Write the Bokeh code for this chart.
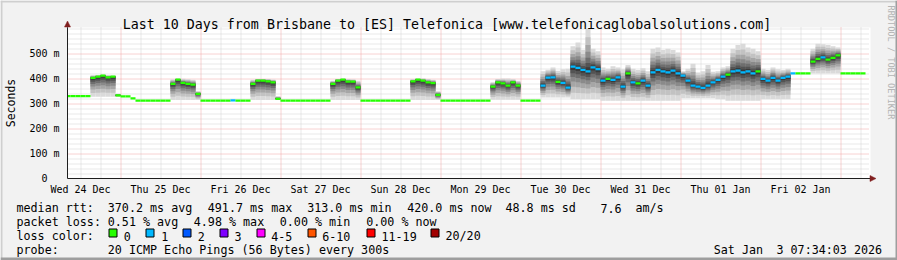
import math
from bokeh.plotting import figure
from bokeh.models import (Range1d, FixedTicker, Arrow, NormalHead, ColumnDataSource)
from bokeh.core.properties import value
from bokeh.embed import file_html
from bokeh.resources import INLINE

# ---------------- data ----------------
title_text = "Last 10 Days from Brisbane to [ES] Telefonica [www.telefonicaglobalsolutions.com]"
day_labels = ["Wed 24 Dec", "Thu 25 Dec", "Fri 26 Dec", "Sat 27 Dec", "Sun 28 Dec",
              "Mon 29 Dec", "Tue 30 Dec", "Wed 31 Dec", "Thu 01 Jan", "Fri 02 Jan"]
y_major = [0, 100, 200, 300, 400, 500]
y_labels = ["0\u00a0\u00a0", "100 m", "200 m", "300 m", "400 m", "500 m"]

# samples of 90 minutes; first sample starts 36 min before graph start
step_min = 90
first_min = -36

median_ms = [
    330, 330, 330, 330, 330, 403, 408, 412, 405, 408,
    333, 329, 329, 321, 312, 312, 312, 312, 312, 312,
    312, 379, 396, 383, 379, 376, 339, 312, 312, 312,
    312, 312, 312, 313, 312, 312, 312, 379, 392, 392,
    389, 385, 319, 312, 312, 312, 312, 312, 312, 312,
    312, 312, 312, 379, 392, 396, 388, 388, 365, 312,
    312, 312, 312, 312, 312, 312, 312, 312, 312, 389,
    396, 392, 385, 382, 335, 312, 312, 312, 312, 312,
    312, 312, 312, 312, 312, 368, 385, 381, 372, 385,
    372, 312, 312, 312, 312, 372, 404, 405, 387, 383,
    364, 448, 443, 435, 429, 445, 438, 392, 399, 395,
    405, 368, 421, 385, 381, 392, 372, 425, 435, 429,
    425, 432, 421, 412, 392, 372, 368, 363, 372, 385,
    395, 408, 416, 429, 432, 425, 429, 421, 429, 399,
    392, 403, 392, 403, 408, 421, 421, 421, 421, 468,
    479, 485, 476, 483, 493, 421, 421, 421, 421, 421,
]
loss = [
    0, 0, 0, 0, 0, 0, 0, 0, 0, 0,
    0, 0, 0, 0, 0, 0, 0, 0, 0, 0,
    0, 0, 0, 0, 0, 0, 0, 0, 0, 0,
    0, 0, 0, 1, 0, 0, 0, 0, 0, 0,
    0, 0, 0, 0, 0, 0, 0, 0, 0, 0,
    0, 0, 0, 0, 0, 0, 0, 0, 0, 0,
    0, 0, 0, 0, 0, 0, 0, 0, 0, 0,
    0, 0, 0, 0, 0, 0, 0, 0, 0, 0,
    0, 0, 0, 0, 0, 0, 0, 0, 0, 0,
    0, 0, 0, 0, 0, 1, 1, 1, 0, 1,
    1, 1, 1, 1, 1, 1, 1, 1, 0, 1,
    1, 1, 0, 1, 0, 1, 1, 1, 1, 1,
    1, 1, 1, 1, 1, 1, 1, 1, 1, 1,
    1, 1, 0, 1, 1, 1, 1, 1, 0, 1,
    1, 1, 1, 1, 1, 1, 0, 0, 0, 0,
    0, 1, 0, 0, 0, 0, 0, 0, 0, 0,
]
smoke_lo = [
    330, 330, 330, 330, 330, 328, 328, 328, 328, 328,
    328, 329, 329, 321, 312, 312, 312, 312, 312, 312,
    312, 315, 315, 315, 315, 315, 315, 312, 312, 312,
    312, 312, 312, 313, 312, 312, 312, 315, 315, 315,
    315, 315, 315, 312, 312, 312, 312, 312, 312, 312,
    312, 312, 312, 315, 315, 315, 315, 315, 315, 312,
    312, 312, 312, 312, 312, 312, 312, 312, 312, 315,
    315, 315, 315, 315, 315, 312, 312, 312, 312, 312,
    312, 312, 312, 312, 312, 316, 316, 316, 316, 316,
    316, 312, 312, 312, 312, 325, 325, 325, 325, 325,
    325, 318, 318, 318, 318, 318, 318, 312, 312, 312,
    312, 312, 312, 312, 312, 312, 312, 312, 312, 312,
    312, 312, 312, 322, 322, 322, 322, 322, 322, 322,
    318, 318, 312, 312, 312, 312, 312, 312, 312, 318,
    318, 318, 318, 318, 318, 421, 421, 421, 421, 421,
    421, 421, 421, 421, 421, 421, 421, 421, 421, 421,
]
smoke_hi = [
    330, 330, 330, 330, 330, 414, 414, 416, 414, 412,
    340, 329, 329, 321, 312, 312, 312, 312, 312, 312,
    312, 398, 400, 400, 399, 396, 350, 312, 312, 312,
    312, 312, 312, 313, 312, 312, 312, 396, 399, 399,
    399, 397, 330, 312, 312, 312, 312, 312, 312, 312,
    312, 312, 312, 392, 399, 400, 399, 397, 392, 312,
    312, 312, 312, 312, 312, 312, 312, 312, 312, 398,
    400, 401, 399, 396, 350, 312, 312, 312, 312, 312,
    312, 312, 312, 312, 312, 386, 399, 401, 401, 398,
    392, 312, 312, 312, 312, 430, 436, 445, 432, 438,
    440, 530, 545, 515, 600, 520, 510, 445, 440, 450,
    445, 438, 455, 440, 435, 442, 430, 520, 525, 515,
    520, 515, 505, 430, 440, 460, 425, 430, 455, 428,
    430, 445, 450, 520, 535, 540, 525, 520, 510, 440,
    435, 445, 438, 435, 440, 421, 421, 421, 421, 520,
    540, 538, 535, 530, 525, 421, 421, 421, 421, 421,
]

loss_levels = ["0", "1", "2", "3", "4-5", "6-10", "11-19", "20/20"]
loss_colors = ["#26ff00", "#00b8ff", "#0059ff", "#7e00ff", "#ff00ff", "#ff5500", "#ff0000", "#a10000"]

rtt_stats = ["370.2 ms avg", "491.7 ms max", "313.0 ms min", "420.0 ms now", "48.8 ms sd", "7.6", "am/s"]
loss_stats = ["0.51 % avg", "4.98 % max", "0.00 % min", "0.00 % now"]
probe_text = "20 ICMP Echo Pings (56 Bytes) every 300s"
stamp_parts = ["Sat Jan", "3 07:34:03 2026"]

# ---------------- geometry helpers ----------------
W, H = 897, 260
X_END = 14454.0          # minutes shown in the graph area
Y_END = 605.0
FL, FR, FT, FB = 67, 870, 27, 178   # graph area in canvas pixels
MPX = X_END / (FR - FL)
VPX = Y_END / (FB - FT)

def hx(px):
    return (px - FL) * MPX

def vy(py):
    return (FB - py) * VPX

def crisp_x(t):
    # centre a 1px line on a pixel column
    return hx(math.floor(FL + t / MPX) + 0.5)

def crisp_y(v):
    return vy(math.floor(FB - v / VPX) + 0.5)

MONO = "DejaVu Sans Mono"
AXIS_C = "#1f1f1f"
ARROW_C = "#801f1f"

p = figure(width=W, height=H, output_backend="svg", toolbar_location=None,
           x_range=Range1d(hx(0), hx(W)), y_range=Range1d(vy(H), vy(0)),
           min_border=0, title_location=None)
p.background_fill_color = "#f2f2f2"
p.border_fill_color = "#f2f2f2"
p.outline_line_color = None
p.xgrid.visible = False
p.ygrid.visible = False

# graph canvas (white)
p.quad(left=[0], right=[X_END], bottom=[0], top=[Y_END], fill_color="#ffffff", line_color=None)

# ---------------- grid ----------------
label_pos = [234 + 1440 * k for k in range(len(day_labels))]
midnights = [954 + 1440 * k for k in range(10)]
six_h = [234 + 360 * k for k in range(40) if (234 + 360 * k) not in midnights]
y_minor = [v for v in range(20, 601, 20) if v not in y_major]

GRID_C = "#d2d2d2"
MGRID_C = "#f0a4a4"
gx_min = [crisp_x(t) for t in six_h]
gx_maj = [crisp_x(t) for t in midnights]
gy_min = [crisp_y(v) for v in y_minor]
gy_maj = [crisp_y(v) for v in y_major[1:]]
x_grid_end = hx(868)
p.segment(x0=gx_min, y0=[0] * len(gx_min), x1=gx_min, y1=[Y_END] * len(gx_min),
          line_color=GRID_C, line_dash="1 1", line_width=1)
p.segment(x0=[0] * len(gy_min), y0=gy_min, x1=[x_grid_end] * len(gy_min), y1=gy_min,
          line_color=GRID_C, line_dash="1 1", line_width=1)
p.segment(x0=gx_maj, y0=[0] * len(gx_maj), x1=gx_maj, y1=[Y_END] * len(gx_maj),
          line_color=MGRID_C, line_dash="1 1", line_width=1)
p.segment(x0=[0] * len(gy_maj), y0=gy_maj, x1=[x_grid_end] * len(gy_maj), y1=gy_maj,
          line_color=MGRID_C, line_dash="1 1", line_width=1)

# ---------------- smoke ----------------
n = len(median_ms)
t0 = [max(first_min + step_min * i, 0) for i in range(n)]
t1 = [min(first_min + step_min * (i + 1), X_END) for i in range(n)]

fracs = [1.0, 0.8, 0.62, 0.46, 0.32, 0.2, 0.1]
shades = ["#dadada", "#c2c2c2", "#a6a6a6", "#8a8a8a", "#6e6e6e", "#535353", "#3a3a3a"]
for f, c in zip(fracs, shades):
    L, R, B, T = [], [], [], []
    for i in range(n):
        if smoke_hi[i] > smoke_lo[i]:
            m = median_ms[i]
            L.append(t0[i]); R.append(t1[i])
            B.append(m - (m - smoke_lo[i]) * f)
            T.append(m + (smoke_hi[i] - m) * f)
    p.quad(left=L, right=R, bottom=B, top=T, fill_color=c, line_color=None)

def loss_idx(l):
    if l <= 3:
        return l
    if l <= 5:
        return 4
    if l <= 10:
        return 5
    if l <= 19:
        return 6
    return 7

med_src = ColumnDataSource(dict(x0=t0, x1=t1, y=median_ms,
                                c=[loss_colors[loss_idx(l)] for l in loss]))
p.segment(x0="x0", y0="y", x1="x1", y1="y", line_color="c", line_width=2.2,
          line_cap="butt", source=med_src)

# ---------------- axes (fixed at the graph origin) ----------------
xa = p.xaxis[0]
ya = p.yaxis[0]
xa.fixed_location = 0
ya.fixed_location = 0
xa.bounds = (0, X_END)
ya.bounds = (0, Y_END)
xa.ticker = FixedTicker(ticks=label_pos)
xa.major_label_overrides = {k: v for k, v in zip(label_pos, day_labels)}
ya.ticker = FixedTicker(ticks=y_major)
ya.major_label_overrides = {k: v for k, v in zip(y_major, y_labels)}
for ax in (xa, ya):
    ax.axis_line_color = AXIS_C
    ax.major_tick_out = 0
    ax.major_tick_in = 0
    ax.minor_tick_out = 0
    ax.minor_tick_in = 0
    ax.major_label_text_font = MONO
    ax.major_label_text_font_size = "10px"
    ax.major_label_text_color = "#000000"
xa.major_label_standoff = 5
ya.major_label_standoff = 8

# arrows
p.add_layout(Arrow(end=NormalHead(size=6, fill_color=ARROW_C, line_color=ARROW_C, line_width=0.5),
                   x_start=0, y_start=Y_END, x_end=0, y_end=vy(20.5),
                   line_color=AXIS_C, line_width=1))
p.add_layout(Arrow(end=NormalHead(size=6, fill_color=ARROW_C, line_color=ARROW_C, line_width=0.5),
                   x_start=X_END, y_start=0, x_end=hx(875.5), y_end=0,
                   line_color=AXIS_C, line_width=1))

# ---------------- texts ----------------
def txt(pxs, pys, strs, size="11.7px", align="left", baseline="alphabetic", color="#000000", angle=0.0):
    p.text(x=[hx(v) for v in pxs], y=[vy(v) for v in pys], text=strs,
           text_font=value(MONO), text_font_size=value(size), text_align=align,
           text_baseline=baseline, text_color=color, angle=angle)

txt([446.5], [24], [title_text], size="13.3px", align="center")
txt([10], [102.5], ["Seconds"], size="11.5px", align="center", baseline="middle", angle=math.pi / 2)
txt([890.5], [5], ["RRDTOOL / TOBI OETIKER"], size="8.6px", align="left", baseline="middle",
    color="#b4b4b4", angle=-math.pi / 2)

row_y = [207.7, 221.7, 235.7, 249.5]
txt([16], [row_y[0]], ["median rtt:"])
txt([107.3, 207.3, 306.7, 406.7, 505, 600, 635], [row_y[0]] * 7, rtt_stats)
txt([16], [row_y[1]], ["packet loss:"])
txt([107.3, 193.3, 279.3, 365.7], [row_y[1]] * 4, loss_stats)
txt([16], [row_y[2]], ["loss color:"])
box_x = [108.5, 145.5, 182.5, 219.5, 256.5, 307.5, 366.5, 430.5]
lab_x = [123.3, 160.7, 197.3, 234, 270.7, 321.7, 381, 445]
p.quad(left=[hx(b) for b in box_x], right=[hx(b + 8) for b in box_x],
       bottom=[vy(236.5)] * 8, top=[vy(228.5)] * 8,
       fill_color=loss_colors, line_color="#000000", line_width=1, line_join="miter")
txt(lab_x, [row_y[2]] * 8, loss_levels)
txt([16], [row_y[3]], ["probe:"])
txt([107.3], [row_y[3]], [probe_text])
txt([713.3, 776], [row_y[3]] * 2, stamp_parts)

# ---------------- image frame ----------------
p.quad(left=[hx(0), hx(0)], right=[hx(W), hx(2)], top=[vy(0), vy(0)], bottom=[vy(2), vy(H)],
       fill_color="#cfcfcf", line_color=None)
p.quad(left=[hx(0), hx(W - 2)], right=[hx(W), hx(W)], top=[vy(H - 3), vy(0)], bottom=[vy(H), vy(H)],
       fill_color="#9e9e9e", line_color=None)

open("out.html", "w").write(file_html(p, INLINE))
